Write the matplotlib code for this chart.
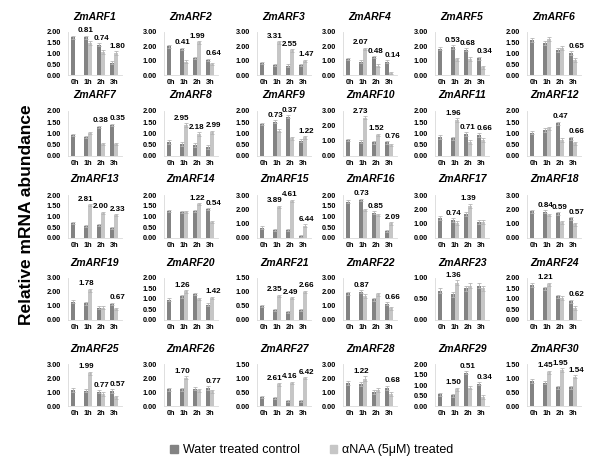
import matplotlib
matplotlib.use('Agg')
import numpy as np
import matplotlib.pyplot as plt
from matplotlib.patches import Patch
from matplotlib.ticker import FormatStrFormatter

# Fonte parecida com Arial
plt.rcParams['font.family'] = ['Liberation Sans', 'DejaVu Sans']

# Nomes dos genes (um painel por gene)
genes = ['ZmARF1', 'ZmARF2', 'ZmARF3', 'ZmARF4', 'ZmARF5', 'ZmARF6',
         'ZmARF7', 'ZmARF8', 'ZmARF9', 'ZmARF10', 'ZmARF11', 'ZmARF12',
         'ZmARF13', 'ZmARF14', 'ZmARF15', 'ZmARF16', 'ZmARF17', 'ZmARF18',
         'ZmARF19', 'ZmARF20', 'ZmARF21', 'ZmARF22', 'ZmARF23', 'ZmARF24',
         'ZmARF25', 'ZmARF26', 'ZmARF27', 'ZmARF28', 'ZmARF29', 'ZmARF30']

tempos = ['0h', '1h', '2h', '3h']

# Limite superior do eixo y de cada painel
ymax = [2, 3, 3, 3, 3, 2,
        2, 2, 2, 3, 2, 2,
        2, 2, 3, 2, 3, 3,
        3, 2, 1.5, 3, 1, 2,
        3, 3, 1.5, 3, 2, 1.5]

# Controle com agua (0h, 1h, 2h, 3h)
controle = [
    [1.75, 1.75, 1.41, 0.58], [1.99, 1.83, 1.17, 1.05], [0.82, 0.70, 0.66, 0.68],
    [1.10, 0.94, 1.24, 0.94], [1.83, 1.95, 1.76, 1.17], [1.64, 1.48, 1.17, 1.02],
    [0.93, 0.85, 1.29, 1.37], [0.63, 0.53, 0.49, 0.41], [1.41, 1.51, 1.74, 0.68],
    [1.06, 0.95, 0.90, 0.90], [0.85, 0.78, 0.96, 0.93], [1.03, 1.15, 1.44, 0.78],
    [0.67, 0.56, 0.59, 0.47], [1.27, 1.22, 1.27, 1.33], [0.70, 0.54, 0.54, 0.12],
    [1.69, 1.77, 1.17, 0.31], [1.36, 1.24, 1.64, 1.10], [1.87, 1.83, 1.71, 1.36],
    [1.29, 1.17, 0.86, 1.12], [0.96, 1.11, 1.24, 0.72], [0.50, 0.35, 0.28, 0.35],
    [1.88, 2.00, 1.46, 1.15], [0.69, 0.61, 0.75, 0.81], [1.66, 1.50, 1.12, 0.88],
    [1.17, 1.12, 1.05, 1.10], [1.21, 1.21, 1.26, 1.31], [0.32, 0.30, 0.20, 0.18],
    [1.67, 1.62, 1.02, 1.33], [0.57, 0.52, 1.60, 1.08], [0.90, 0.84, 0.68, 0.68],
]

# Tratado com aNAA (1h, 2h, 3h)
tratado = [
    [1.48, 1.06, 1.02], [0.94, 2.27, 0.75], [2.27, 1.71, 1.00],
    [1.83, 0.66, 0.16], [1.10, 1.12, 0.54], [1.67, 1.25, 0.70],
    [1.00, 0.53, 0.53], [1.37, 0.96, 1.04], [1.12, 0.78, 0.82],
    [2.54, 1.39, 0.73], [1.59, 0.63, 0.71], [1.22, 0.71, 0.56],
    [1.53, 1.17, 1.06], [1.19, 1.58, 0.75], [2.16, 2.58, 0.85],
    [1.30, 1.06, 0.67], [1.05, 2.25, 1.12], [1.59, 1.08, 0.94],
    [2.12, 0.86, 0.76], [1.35, 1.00, 1.04], [0.85, 0.77, 1.00],
    [1.69, 1.81, 0.80], [0.88, 0.81, 0.75], [1.69, 1.04, 0.55],
    [2.36, 0.88, 0.64], [2.05, 1.14, 1.07], [0.78, 0.84, 1.00],
    [1.98, 1.19, 0.90], [0.81, 0.89, 0.44], [1.21, 1.30, 1.06],
]

# Valores escritos acima das barras (1h, 2h, 3h)
rotulos = [
    ['0.81', '0.74', '1.80'], ['0.41', '1.99', '0.64'], ['3.31', '2.55', '1.47'],
    ['2.07', '0.48', '0.14'], ['0.53', '0.68', '0.34'], ['', '', '0.65'],
    ['', '0.38', '0.35'], ['2.95', '2.18', '2.99'], ['0.73', '0.37', '1.22'],
    ['2.73', '1.52', '0.76'], ['1.96', '0.71', '0.66'], ['', '0.47', '0.66'],
    ['2.81', '2.00', '2.33'], ['', '1.22', '0.54'], ['3.89', '4.61', '6.44'],
    ['0.73', '0.85', '2.09'], ['0.74', '1.39', ''], ['0.84', '0.59', '0.57'],
    ['1.78', '', '0.67'], ['1.26', '', '1.42'], ['2.35', '2.49', '2.66'],
    ['0.87', '', '0.66'], ['1.36', '', ''], ['1.21', '', '0.62'],
    ['1.99', '0.77', '0.57'], ['1.70', '', '0.77'], ['2.61', '4.16', '6.42'],
    ['1.22', '', '0.68'], ['1.50', '0.51', '0.34'], ['1.45', '1.95', '1.54'],
]

# Tamanho aproximado das barras de erro em cada painel
erro = [0.08, 0.08, 0.08, 0.08, 0.12, 0.10,
        0.05, 0.08, 0.06, 0.08, 0.08, 0.08,
        0.05, 0.05, 0.10, 0.06, 0.15, 0.10,
        0.10, 0.06, 0.04, 0.12, 0.06, 0.08,
        0.12, 0.12, 0.04, 0.15, 0.08, 0.06]

cor_escura = '#838383'
cor_clara = '#c6c6c6'

# Posicoes dos paineis em pixels
W, H = 600, 473
esquerdas = [68, 164, 257, 343, 435, 527]
topos = [32, 110.7, 195, 278, 364.3]
bases = [75, 156, 237.7, 319.5, 406.3]
largura = 54
# deslocamento horizontal dos valores (pontos) para 1h, 2h, 3h
desloc = [-1.5, 0, 2.5]

fig = plt.figure(figsize=(6.0, 4.73), dpi=100)

for k, gene in enumerate(genes):
    r, c = k // 6, k % 6
    ax = fig.add_axes([esquerdas[c] / W, 1 - bases[r] / H,
                       largura / W, (bases[r] - topos[r]) / H])
    x = np.arange(4)
    ek = dict(ecolor='#b5b5b5', elinewidth=0.6, capsize=1.2, capthick=0.6)
    ax.bar(x - 0.17, controle[k], width=0.33, color=cor_escura,
           yerr=erro[k], error_kw=ek)
    ax.bar(x[1:] + 0.17, tratado[k], width=0.33, color=cor_clara,
           yerr=erro[k], error_kw=ek)

    # valores acima de cada grupo
    for i in range(3):
        if rotulos[k][i]:
            topo = max(controle[k][i + 1], tratado[k][i]) + erro[k]
            ax.annotate(rotulos[k][i], (i + 1, topo), xytext=(desloc[i], 1),
                        textcoords='offset points', ha='center', va='bottom',
                        fontsize=5.8, fontweight='bold', annotation_clip=False)

    passo = 1.0 if ymax[k] == 3 else 0.5
    ax.set_ylim(0, ymax[k])
    ax.set_yticks(np.arange(0, ymax[k] + 0.01, passo))
    ax.yaxis.set_major_formatter(FormatStrFormatter('%.2f'))
    ax.set_xlim(-0.56, 3.63)
    ax.set_xticks(x)
    ax.set_xticklabels(tempos)
    ax.tick_params(length=0, labelsize=5.3, pad=3)
    ax.tick_params(axis='y', pad=5)
    for t in ax.get_xticklabels() + ax.get_yticklabels():
        t.set_fontweight('bold')
    for lado in ['top', 'right']:
        ax.spines[lado].set_visible(False)
    for lado in ['left', 'bottom']:
        ax.spines[lado].set_color('#d9d9d9')
        ax.spines[lado].set_linewidth(0.6)
    ax.set_title(gene, fontsize=7.5, fontweight='bold', style='italic', pad=9)

# Rotulo do eixo y comum
fig.text(27 / W, 1 - 215 / H, 'Relative mRNA abundance', rotation=90,
         fontsize=12.5, fontweight='bold', ha='center', va='center')

# Legenda
legenda = [Patch(color=cor_escura, label='Water treated control'),
           Patch(color=cor_clara, label='\u03b1NAA (5\u03bcM) treated')]
fig.legend(handles=legenda, loc='center', bbox_to_anchor=(0.52, 1 - 450 / H),
           ncol=2, frameon=False, fontsize=9, handlelength=0.6,
           handleheight=0.6, handletextpad=0.4, columnspacing=2.4)

fig.savefig('out.png', dpi=100)
